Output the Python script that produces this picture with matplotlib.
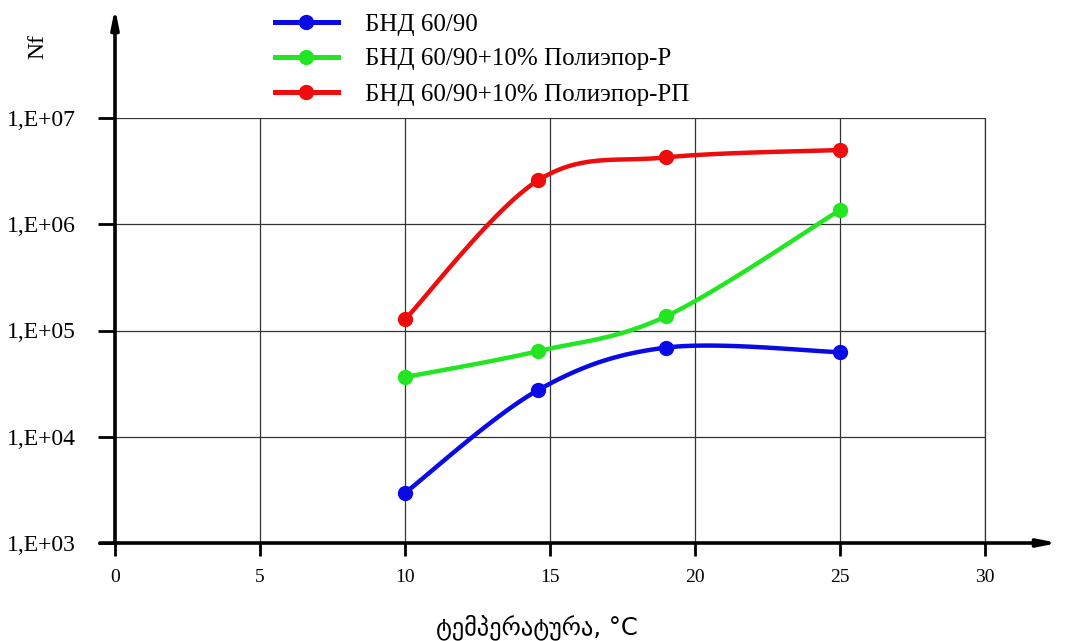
import numpy as np
import matplotlib
matplotlib.use("Agg")
import matplotlib.pyplot as plt
from matplotlib.lines import Line2D

# ---- data ----
temps = [10, 14.6, 19, 25]
bnd = [2960, 27600, 69000, 62500]
bnd_p = [36400, 64000, 136000, 1360000]
bnd_rp = [127000, 2600000, 4260000, 5000000]
series_names = ["БНД 60/90", "БНД 60/90+10% Полиэпор-Р", "БНД 60/90+10% Полиэпор-РП"]
series_colors = ["#0a0ae6", "#22e622", "#ee0c0c"]
xticks = [0, 5, 10, 15, 20, 25, 30]
yticks = [1e3, 1e4, 1e5, 1e6, 1e7]
ytick_labels = ["1,E+03", "1,E+04", "1,E+05", "1,E+06", "1,E+07"]
xlabel = "ტემპერატურა, °C"
ylabel = "Nf"

serif = ["Liberation Serif", "DejaVu Serif"]


def smooth(xs, ys, n=40):
    """Catmull-Rom style smoothing in (x, log y) space, like a spreadsheet smoothed line."""
    xs = np.asarray(xs, float)
    ly = np.log10(np.asarray(ys, float))
    P = np.column_stack([xs, ly])
    out = []
    for i in range(len(P) - 1):
        p0 = P[i - 1] if i > 0 else P[i]
        p1 = P[i]
        p2 = P[i + 1]
        p3 = P[i + 2] if i + 2 < len(P) else P[i + 1]
        c1 = p1 + (p2 - p0) / 6.0
        c2 = p2 - (p3 - p1) / 6.0
        t = np.linspace(0, 1, n)[:, None]
        seg = ((1 - t) ** 3) * p1 + 3 * ((1 - t) ** 2) * t * c1 + 3 * (1 - t) * t ** 2 * c2 + t ** 3 * p2
        out.append(seg if i == 0 else seg[1:])
    seg = np.vstack(out)
    return seg[:, 0], 10 ** seg[:, 1]


fig = plt.figure(figsize=(10.72, 6.41), dpi=100)
ax = fig.add_axes([115 / 1072, 1 - 543 / 641, 870 / 1072, 425 / 641])
ax.set_xlim(0, 30)
ax.set_yscale("log")
ax.set_ylim(1e3, 1e7)

for ys, c in zip([bnd, bnd_p, bnd_rp], series_colors):
    sx, sy = smooth(temps, ys)
    ax.plot(sx, sy, color=c, lw=3.2, solid_capstyle="round", zorder=3)
    ax.plot(temps, ys, "o", color=c, ms=10, zorder=4)

ax.set_xticks(xticks)
ax.set_xticklabels([str(v) for v in xticks], fontfamily=serif, fontsize=14)
ax.set_yticks(yticks)
ax.set_yticklabels(ytick_labels, fontfamily=serif, fontsize=17)
ax.yaxis.set_minor_locator(matplotlib.ticker.NullLocator())
ax.tick_params(axis="y", direction="out", length=12, width=2, pad=16)
ax.tick_params(axis="x", direction="out", length=9, width=2, pad=10)

ax.grid(True, which="major", color="#333333", lw=0.9)
ax.spines["top"].set_visible(False)
ax.spines["right"].set_color("#333333")
ax.spines["right"].set_linewidth(0.9)
ax.spines["left"].set_visible(False)
ax.spines["bottom"].set_visible(False)

# axis arrows
ax.annotate("", xy=(0, (543 - 8) / 425), xytext=(0, 0), xycoords="axes fraction",
            arrowprops=dict(arrowstyle="-|>,head_length=1.1,head_width=0.22", lw=2.6, color="black",
                            shrinkA=0, shrinkB=0), annotation_clip=False)
ax.annotate("", xy=((1058 - 115) / 870, 0), xytext=((100 - 115) / 870, 0), xycoords="axes fraction",
            arrowprops=dict(arrowstyle="-|>,head_length=1.1,head_width=0.22", lw=2.6, color="black",
                            shrinkA=0, shrinkB=0), annotation_clip=False)

fig.text(38 / 1072, 1 - 47 / 641, ylabel, rotation=90, ha="center", va="center",
         fontfamily=serif, fontsize=17)
fig.text(537 / 1072, 1 - 627 / 641, xlabel, ha="center", va="center",
         fontfamily=["DejaVu Sans"], fontsize=17.5)

handles = [Line2D([], [], color=c, lw=3.6, marker="o", ms=10) for c in series_colors]
fig.legend(handles, series_names, loc="upper left", bbox_to_anchor=(265 / 1072, 1 - 3 / 641),
           frameon=False, prop={"family": serif, "size": 18}, handlelength=2.5,
           handletextpad=1.1, labelspacing=0.5, borderaxespad=0.0)

fig.savefig("out.png", dpi=100)
